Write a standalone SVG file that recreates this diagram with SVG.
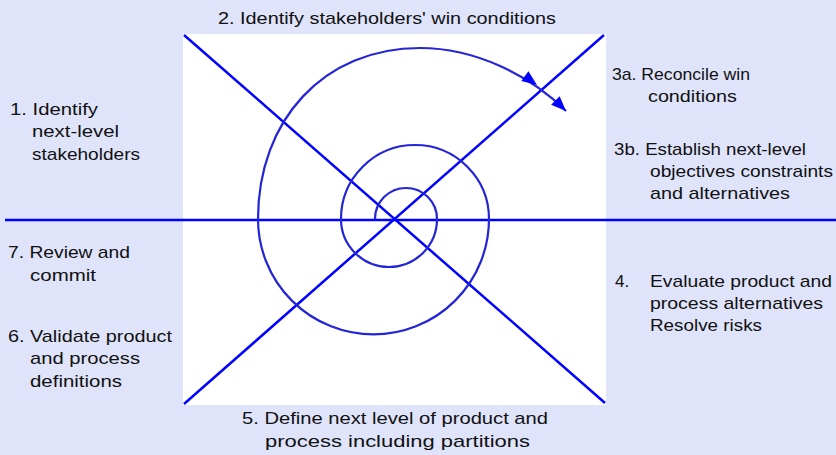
<svg xmlns="http://www.w3.org/2000/svg" width="836" height="455" viewBox="0 0 836 455">
<style>
.t{font-family:"Liberation Sans",Arial,sans-serif;font-size:17px;fill:#111}
.ax{stroke:#0000FF;stroke-width:2.5;fill:none}
.sp{stroke:#2424D8;stroke-width:2.2;fill:none}
.hd{fill:#0000FF}
</style>
<defs>
<marker id="ah" markerUnits="userSpaceOnUse" markerWidth="16" markerHeight="12" refX="15" refY="6" orient="auto">
<path d="M0,0 L15,6 L0,12 z" fill="#0000FF"/>
</marker>
</defs>
<rect x="0" y="0" width="836" height="455" fill="#DFE4FB"/>
<rect id="panel" x="183" y="34" width="423" height="371" fill="#FFFFFF"/>
<g id="connectors">
<line class="ax" x1="5" y1="220" x2="836" y2="220"/>
<line class="ax" x1="184" y1="35" x2="605" y2="403"/>
<line class="ax" x1="604" y1="35" x2="184" y2="404"/>
<path class="sp" d="M375,219 A31,31 0 0 1 437,219 A48,48 0 0 1 341,219 A74,74 0 0 1 489,219 A115.5,115.5 0 0 1 258,219"/>
<path class="sp" marker-end="url(#ah)" d="M258,219 C258,120 324,48 420,48 C475,48 530,75 566,111"/>
<path class="hd" transform="translate(537,85) rotate(36)" d="M0,0 L-15,-6 L-15,6 z"/>
</g>
<g id="n2"><text class="t" x="218" y="24" textLength="338" lengthAdjust="spacingAndGlyphs">2. Identify stakeholders' win conditions</text></g>
<g id="n1"><text class="t" x="10" y="115" textLength="88" lengthAdjust="spacingAndGlyphs">1. Identify</text><text class="t" x="32" y="137" textLength="87" lengthAdjust="spacingAndGlyphs">next-level</text><text class="t" x="32" y="160" textLength="108" lengthAdjust="spacingAndGlyphs">stakeholders</text></g>
<g id="n3a"><text class="t" x="612" y="80" textLength="138" lengthAdjust="spacingAndGlyphs">3a. Reconcile win</text><text class="t" x="648" y="102" textLength="89" lengthAdjust="spacingAndGlyphs">conditions</text></g>
<g id="n3b"><text class="t" x="614" y="155" textLength="192" lengthAdjust="spacingAndGlyphs">3b. Establish next-level</text><text class="t" x="650" y="177" textLength="183" lengthAdjust="spacingAndGlyphs">objectives constraints</text><text class="t" x="650" y="199" textLength="140" lengthAdjust="spacingAndGlyphs">and alternatives</text></g>
<g id="n7"><text class="t" x="8" y="258" textLength="122" lengthAdjust="spacingAndGlyphs">7. Review and</text><text class="t" x="30" y="281" textLength="66" lengthAdjust="spacingAndGlyphs">commit</text></g>
<g id="n6"><text class="t" x="8" y="342" textLength="164" lengthAdjust="spacingAndGlyphs">6. Validate product</text><text class="t" x="30" y="364" textLength="110" lengthAdjust="spacingAndGlyphs">and process</text><text class="t" x="30" y="387" textLength="92" lengthAdjust="spacingAndGlyphs">definitions</text></g>
<g id="n4"><text class="t" x="615" y="287">4.</text><text class="t" x="650" y="287" textLength="182" lengthAdjust="spacingAndGlyphs">Evaluate product and</text><text class="t" x="650" y="309" textLength="173" lengthAdjust="spacingAndGlyphs">process alternatives</text><text class="t" x="650" y="331" textLength="112" lengthAdjust="spacingAndGlyphs">Resolve risks</text></g>
<g id="n5"><text class="t" x="242" y="424" textLength="306" lengthAdjust="spacingAndGlyphs">5. Define next level of product and</text><text class="t" x="265" y="447" textLength="265" lengthAdjust="spacingAndGlyphs">process including partitions</text></g>
</svg>
